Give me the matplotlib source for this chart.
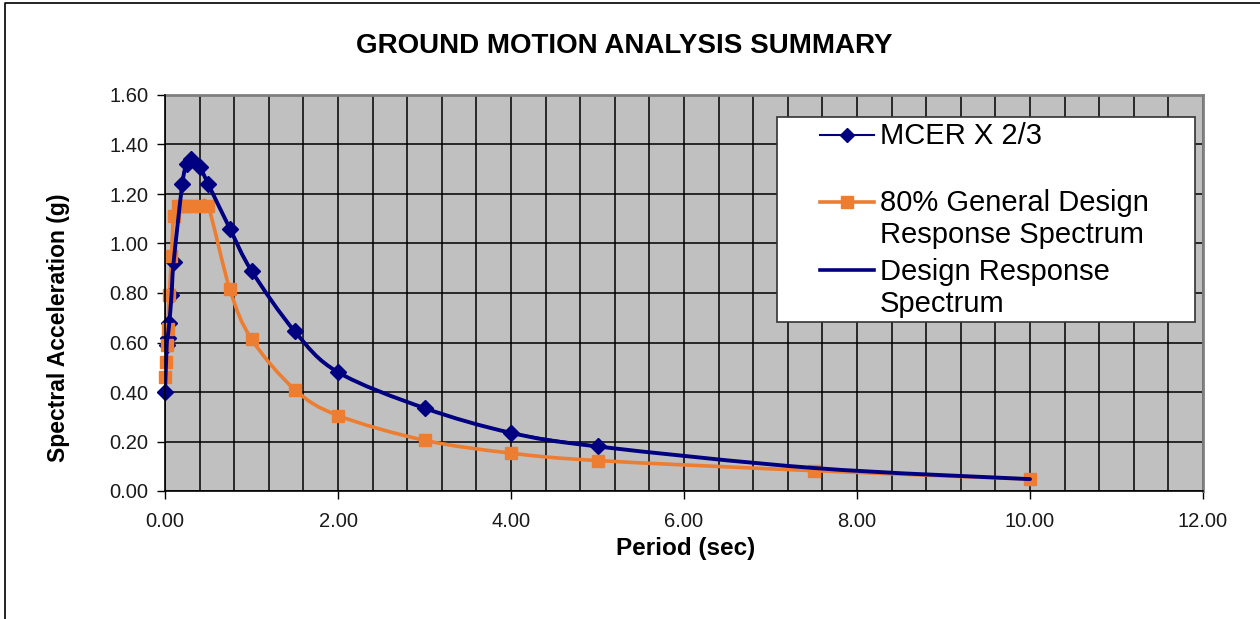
import numpy as np
import matplotlib
matplotlib.use("Agg")
import matplotlib.pyplot as plt
from matplotlib.path import Path
from matplotlib.patches import PathPatch, Rectangle
from matplotlib.lines import Line2D
from matplotlib.ticker import MultipleLocator, FormatStrFormatter

plt.rcParams['font.family'] = ['Liberation Sans', 'DejaVu Sans']

# --- data ---
mcer_period = [0.0, 0.02, 0.03, 0.05, 0.075, 0.1, 0.2, 0.25, 0.3, 0.4, 0.5,
               0.75, 1.0, 1.5, 2.0, 3.0, 4.0, 5.0]
mcer_sa = [0.40, 0.59, 0.62, 0.68, 0.79, 0.925, 1.24, 1.32, 1.34, 1.31, 1.24,
           1.06, 0.89, 0.645, 0.48, 0.335, 0.235, 0.18]

gen80_period = [0.0, 0.01, 0.02, 0.03, 0.05, 0.075, 0.1, 0.15, 0.2, 0.25, 0.3,
                0.4, 0.5, 0.75, 1.0, 1.5, 2.0, 3.0, 4.0, 5.0, 7.5, 10.0]
gen80_sa = [0.46, 0.52, 0.59, 0.655, 0.79, 0.95, 1.11, 1.15, 1.15, 1.15, 1.15,
            1.15, 1.15, 0.815, 0.614, 0.41, 0.305, 0.205, 0.153, 0.123, 0.082, 0.048]

design_period = [0.0, 0.02, 0.03, 0.05, 0.075, 0.1, 0.2, 0.25, 0.3, 0.4, 0.5,
                 0.75, 1.0, 1.5, 2.0, 3.0, 4.0, 5.0, 7.5, 10.0]
design_sa = [0.40, 0.59, 0.62, 0.68, 0.79, 0.925, 1.24, 1.32, 1.34, 1.31, 1.24,
             1.06, 0.89, 0.645, 0.48, 0.335, 0.235, 0.18, 0.093, 0.048]

series_labels = ['MCER X 2/3', '80% General Design\nResponse Spectrum',
                 'Design Response\nSpectrum']

NAVY = '#000080'
ORANGE = '#ED7D31'


def smooth_path(xs, ys):
    """
    Excel-style smoothed line: cubic Bezier segments through every point
    (Catmull-Rom control points, tension 1/6)
    """
    pts = np.column_stack([xs, ys]).astype(float)
    n = len(pts)
    verts = [pts[0]]
    codes = [Path.MOVETO]
    for i in range(n - 1):
        p0 = pts[max(i - 1, 0)]
        p1 = pts[i]
        p2 = pts[i + 1]
        p3 = pts[min(i + 2, n - 1)]
        verts += [p1 + (p2 - p0) / 6.0, p2 - (p3 - p1) / 6.0, p2]
        codes += [Path.CURVE4] * 3
    return Path(verts, codes)


def add_curve(ax, xs, ys, color, lw, z):
    patch = PathPatch(smooth_path(xs, ys), facecolor='none', edgecolor=color,
                      lw=lw, capstyle='round', joinstyle='round', zorder=z)
    ax.add_patch(patch)


fig = plt.figure(figsize=(12.6, 6.19), dpi=100)
fig.patch.set_facecolor('white')

# chart-area border (only left and top visible in the screenshot)
fig.add_artist(Line2D([5 / 1260, 5 / 1260, 1.0], [0.0, 1 - 3 / 619, 1 - 3 / 619],
                      transform=fig.transFigure, color='black', lw=1.2))

ax = fig.add_axes([165 / 1260, 1 - 491 / 619, 1038 / 1260, 396 / 619])
ax.set_facecolor('#C0C0C0')
ax.set_xlim(0, 12)
ax.set_ylim(0, 1.6)

# grid
ax.xaxis.set_major_locator(MultipleLocator(2))
ax.xaxis.set_minor_locator(MultipleLocator(0.4))
ax.yaxis.set_major_locator(MultipleLocator(0.2))
ax.xaxis.set_major_formatter(FormatStrFormatter('%.2f'))
ax.yaxis.set_major_formatter(FormatStrFormatter('%.2f'))
ax.grid(True, which='both', axis='x', color='black', lw=1.1, zorder=1)
ax.grid(True, which='major', axis='y', color='black', lw=1.1, zorder=1)
ax.set_axisbelow(True)

ax.tick_params(which='major', direction='out', length=6, width=1.0,
               labelsize=14.5, labelcolor='#1a1a1a', pad=6)
ax.tick_params(axis='x', which='major', pad=9)
ax.tick_params(which='minor', length=0)

for side in ['left', 'bottom']:
    ax.spines[side].set_color('black')
    ax.spines[side].set_linewidth(1.2)
    ax.spines[side].set_zorder(4)
for side in ['top', 'right']:
    ax.spines[side].set_color('#808080')
    ax.spines[side].set_linewidth(2.0)

# curves
add_curve(ax, mcer_period, mcer_sa, NAVY, 1.8, 2)
ax.plot(mcer_period, mcer_sa, linestyle='none', marker='D', ms=8,
        color=NAVY, zorder=3, clip_on=False)
add_curve(ax, gen80_period, gen80_sa, ORANGE, 2.6, 2.5)
ax.plot(gen80_period, gen80_sa, linestyle='none', marker='s', ms=9,
        color=ORANGE, zorder=3.5, clip_on=False)
add_curve(ax, design_period, design_sa, NAVY, 2.8, 3.8)

# legend box drawn by hand (Excel layout: handle sits on first text line)
def axfrac(px, py):
    return (px - 165) / 1038, (491 - py) / 396

lx0, ly0 = axfrac(777, 322)
lx1, ly1 = axfrac(1195, 117)
ax.add_patch(Rectangle((lx0, ly0), lx1 - lx0, ly1 - ly0, transform=ax.transAxes,
                       facecolor='white', edgecolor='#333333', lw=1.2, zorder=5))

hx0, _ = axfrac(820, 0)
hx1, _ = axfrac(874, 0)
hxm = (hx0 + hx1) / 2
tx, _ = axfrac(880, 0)

handle_y = [135, 202, 270]
label_y = [136, 219, 288]
handle_style = [
    dict(color=NAVY, lw=1.5, marker='D', ms=7),
    dict(color=ORANGE, lw=2.6, marker='s', ms=8),
    dict(color=NAVY, lw=2.6, marker=None, ms=0),
]
for lbl, hy, ty, st in zip(series_labels, handle_y, label_y, handle_style):
    _, yy = axfrac(0, hy)
    ax.add_line(Line2D([hx0, hx1], [yy, yy], transform=ax.transAxes,
                       color=st['color'], lw=st['lw'], zorder=6))
    if st['marker']:
        ax.add_line(Line2D([hxm], [yy], transform=ax.transAxes, color=st['color'],
                           marker=st['marker'], ms=st['ms'], linestyle='none',
                           zorder=6))
    _, yt = axfrac(0, ty)
    ax.text(tx, yt, lbl, transform=ax.transAxes, fontsize=21, va='center',
            ha='left', linespacing=1.2, zorder=6)

# titles
fig.text(624 / 1260, 1 - 46 / 619, 'GROUND MOTION ANALYSIS SUMMARY',
         fontsize=20, fontweight='bold', ha='center', va='center')
fig.text(686 / 1260, 1 - 549 / 619, 'Period (sec)',
         fontsize=17.5, fontweight='bold', ha='center', va='center')
fig.text(58 / 1260, 1 - 328 / 619, 'Spectral Acceleration (g)',
         fontsize=16.5, fontweight='bold', ha='center', va='center', rotation=90)

fig.savefig('out.png', dpi=100)
